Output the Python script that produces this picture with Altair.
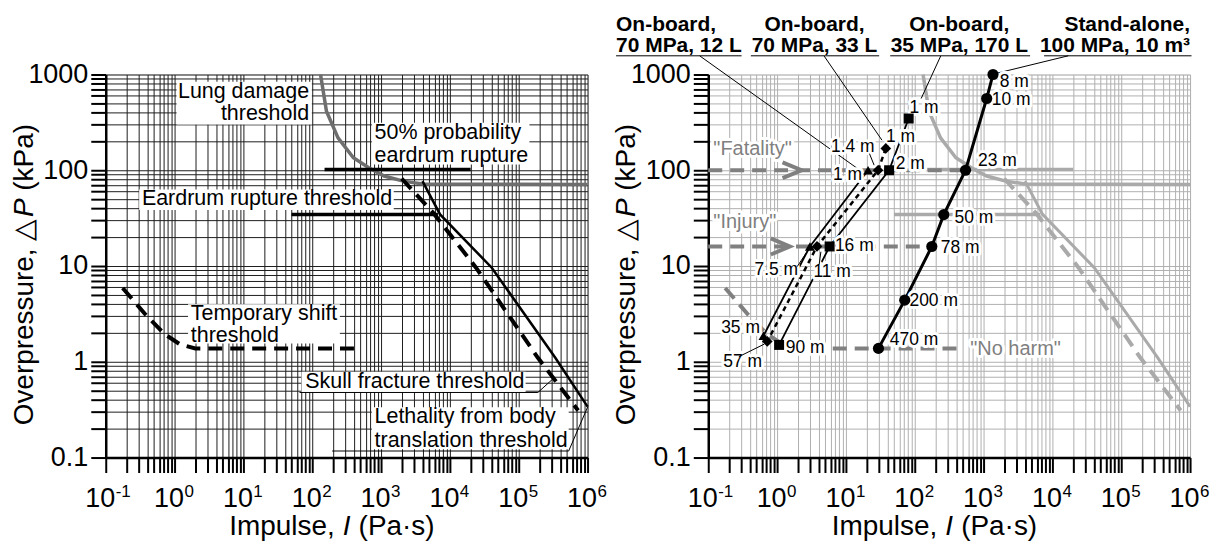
import altair as alt
import pandas as pd

FONT = "Liberation Sans"
W, H = 483, 384

# ---------------- threshold curves (impulse in Pa·s, overpressure in kPa) ----------------
lung_I = [132, 161, 237, 396, 663, 1110, 2100, 4000, 1e6]
lung_P = [1000, 414, 218, 135, 106, 87, 77, 72, 71]
ear50_I = [151, 20000]
ear50_P = [102, 102]
eardrum_I = [50, 6700]
eardrum_P = [34.5, 34.5]
skull_I = [4000, 7200, 40600, 340000, 1000000]
skull_P = [77, 34.6, 9.6, 1.1, 0.34]
body_I = [1990, 5900, 24000, 190000, 730000]
body_P = [82, 35, 9.6, 1.1, 0.31]
tts_I = [0.176, 0.38, 0.72, 1.2, 2.0, 480]
tts_P = [5.9, 3.1, 1.94, 1.52, 1.38, 1.38]

# ---------------- harm levels ----------------
fatal_I, fatal_P = [0.1, 550], [100, 100]
injury_I, injury_P = [0.1, 177], [16, 16]
fatal_arrow_I, fatal_arrow_P = [1.2, 2.27, 1.2], [121, 100, 82.6]
injury_arrow_I, injury_arrow_P = [0.81, 1.53, 0.81], [19.4, 16, 13.2]

# ---------------- tank rupture cases ----------------
sa_dist = ["8 m", "10 m", "23 m", "50 m", "78 m", "200 m", "470 m"]
sa_I = [1370, 1110, 547, 264, 177, 71.6, 29.7]
sa_P = [1000, 561, 100, 34.4, 16, 4.4, 1.38]

ob170_dist = ["1 m", "2 m", "16 m", "90 m"]
ob170_I = [81.6, 42.4, 5.8, 1.07]
ob170_P = [347, 100, 16, 1.5]

ob33_dist = ["1 m", "1.4 m", "11 m", "57 m"]
ob33_I = [38, 29.3, 3.8, 0.72]
ob33_P = [169, 100, 16, 1.63]

ob12_dist = ["1 m", "7.5 m", "35 m"]
ob12_I = [21, 3.0, 0.635]
ob12_P = [100, 16, 1.87]

# ---------------- annotation anchors (data coordinates) ----------------
left_lbl_text = ["Lung damage", "threshold"]
left_lbl_I = [90, 90]
left_lbl_P = [660, 385]
left_lbl2_text = ["50% probability", "eardrum rupture", "Eardrum rupture threshold",
                  "Temporary shift", "threshold", "Skull fracture threshold",
                  "Lethality from body", "translation threshold"]
left_lbl2_I = [804, 804, 0.335, 1.72, 1.72, 79.3, 804, 804]
left_lbl2_P = [246, 141, 49.6, 3.13, 1.86, 0.616, 0.264, 0.15]
box_I1 = [1.07, 735, 0.306, 1.57, 69.8, 735]
box_I2 = [98.7, 143000, 1528, 252, 126000, 532000]
box_P1 = [840, 313, 63, 3.98, 0.785, 0.336]
box_P2 = [300, 115, 38.4, 1.55, 0.483, 0.122]
skull_lead_I = [65.4, 190000, 318000]
skull_lead_P = [0.478, 0.478, 0.668]
leth_lead_I = [195, 532000, 1010000]
leth_lead_P = [0.117, 0.117, 0.341]

harm_text = ['"Fatality"', '"Injury"', '"No harm"']
harm_I = [0.1186, 0.1186, 640]
harm_P = [168, 28.8, 1.36]

sa_lbl_I = [1714, 1318, 832, 378, 239, 83.8, 43.4]
sa_lbl_P = [838, 540, 124, 31.8, 15.4, 4.33, 1.69]
ob170_lbl_I = [83.8, 53, 6.92, 1.34]
ob170_lbl_P = [449, 117.5, 16.1, 1.38]
ob33_lbl_I = [38.1, 6.07, 3.37, 0.165]
ob33_lbl_P = [223, 175, 8.73, 0.99]
ob12_lbl_I = [6.49, 0.47, 0.154]
ob12_lbl_P = [90.2, 9.02, 2.25]

short_leads = [  # (I0, P0, I1, P1)
    (22, 149, 25.7, 113),
    (1.96, 9.86, 2.93, 15.3),
    (4.09, 10.4, 4.33, 14.1),
    (0.278, 1.13, 0.653, 1.53),
]

group_line1 = ["On-board,", "On-board,", "On-board,", "Stand-alone,"]
group_line2 = ["70 MPa, 12 L", "70 MPa, 33 L", "35 MPa, 170 L", "100 MPa, 10 m³"]
group_I = [0.00458, 3.5, 444, 1.0e6]
group_align = ["left", "center", "center", "right"]
group_P1, group_P2, group_Pu = 3318, 1990, 1567
group_ul_I1 = [0.00458, 0.416, 44, 7570]
group_ul_I2 = [0.305, 30.4, 4740, 1.05e6]
group_lead = [  # (I0, I1, P1)
    (0.075, 14.8, 104),
    (4.8, 33.4, 206),
    (239, 124, 561),
    (17000, 1500, 1024),
]

# ---------------- axes ----------------
X_VALUES = [m * 10.0 ** e for e in range(-1, 6) for m in range(1, 10)] + [1e6]
Y_VALUES = [m * 10.0 ** e for e in range(-1, 3) for m in range(1, 10)] + [1000.0]
DECADES = [10.0 ** k for k in range(-1, 7)]
EXPONENTS = ["-1", "0", "1", "2", "3", "4", "5", "6"]
x_label_expr = " || ".join(f"datum.value == {v!r}" for v in DECADES) + " ? '10' : ''"
y_label_expr = " : ".join(
    f"datum.value == {10.0 ** k!r} ? '{lab}'"
    for k, lab in zip(range(-1, 4), ["0.1", "1", "10", "100", "1000"])) + " : ''"

XS = alt.Scale(type="log", domain=[0.1, 1e6], nice=False)
YS = alt.Scale(type="log", domain=[0.1, 1000], nice=False)
TICK_FONT = 27
TITLE_FONT = 28


def make_axes(grid_color):
    common = dict(title=None, grid=True, gridColor=grid_color, gridWidth=1, gridOpacity=1,
                  domainColor="black", domainWidth=2.5, tickColor="black", tickWidth=2,
                  tickSize=15, labelFont=FONT, labelFontSize=TICK_FONT, labelColor="black",
                  labelOverlap=False, labelFlush=False)
    xa = alt.Axis(values=X_VALUES, labelExpr=x_label_expr, labelPadding=13, labelOffset=-6,
                  **common)
    ya = alt.Axis(values=Y_VALUES, labelExpr=y_label_expr, labelPadding=3, **common)
    return xa, ya


class Panel:
    def __init__(self, grid_color):
        self.xa, self.ya = make_axes(grid_color)
        self.layers = []

    def xy(self, xf="I", yf="P"):
        return dict(x=alt.X(f"{xf}:Q", scale=XS, axis=self.xa),
                    y=alt.Y(f"{yf}:Q", scale=YS, axis=self.ya))

    def line(self, I, P, color, width, dash=None):
        d = pd.DataFrame({"I": I, "P": P, "o": list(range(len(I)))})
        kw = dict(color=color, strokeWidth=width)
        if dash:
            kw["strokeDash"] = dash
        self.layers.append(alt.Chart(d).mark_line(**kw).encode(**self.xy(), order="o:Q"))

    def rule(self, I0, P0, I1, P1, color="black", width=1):
        d = pd.DataFrame({"I": [I0], "P": [P0], "I2": [I1], "P2": [P1]})
        self.layers.append(alt.Chart(d).mark_rule(color=color, strokeWidth=width).encode(
            **self.xy(), x2="I2:Q", y2="P2:Q"))

    def boxes(self, I1, I2, P1, P2):
        d = pd.DataFrame({"I": I1, "I2": I2, "P": P1, "P2": P2})
        self.layers.append(alt.Chart(d).mark_rect(fill="white").encode(
            **self.xy(), x2="I2:Q", y2="P2:Q"))

    def text(self, I, P, labels, size, align="left", color="black", halo=0, weight="normal"):
        d = pd.DataFrame({"I": I, "P": P, "t": labels})
        base = dict(font=FONT, fontSize=size, align=align, baseline="middle", fontWeight=weight)
        if halo:
            self.layers.append(alt.Chart(d).mark_text(
                color="white", stroke="white", strokeWidth=halo, strokeJoin="round", **base
            ).encode(**self.xy(), text="t:N"))
        self.layers.append(alt.Chart(d).mark_text(color=color, **base).encode(
            **self.xy(), text="t:N"))

    def points(self, I, P, shape, size):
        d = pd.DataFrame({"I": I, "P": P})
        self.layers.append(alt.Chart(d).mark_point(
            shape=shape, size=size, filled=True, color="black", opacity=1).encode(**self.xy()))

    def exponents(self):
        # superscript powers next to the "10" tick labels
        d = pd.DataFrame({"I": DECADES, "t": EXPONENTS})
        self.layers.append(alt.Chart(d).mark_text(
            font=FONT, fontSize=17, align="left", baseline="middle", color="black", dx=10
        ).encode(x=alt.X("I:Q", scale=XS, axis=self.xa), y=alt.value(H + 35), text="t:N"))

    def ptext(self, s, x, y, align="center", angle=0, italic=False, size=TITLE_FONT):
        d = pd.DataFrame({"t": [s]})
        kw = dict(font=FONT, fontSize=size, align=align, baseline="middle", color="black",
                  angle=angle)
        if italic:
            kw["fontStyle"] = "italic"
        self.layers.append(alt.Chart(d).mark_text(**kw).encode(
            x=alt.value(x), y=alt.value(y), text="t:N"))

    def titles(self):
        cx = W / 2
        ty = H + 70
        self.ptext("Impulse,", cx - 12, ty, align="right")
        self.ptext("I", cx, ty, italic=True)
        self.ptext("(Pa·s)", cx + 12, ty, align="left")
        pc = 1.391 * H / 4
        tx = -81
        self.ptext("Overpressure, △", tx, pc + 11, align="right", angle=270)
        self.ptext("P", tx, pc, angle=270, italic=True)
        self.ptext("(kPa)", tx, pc - 17, align="left", angle=270)

    def chart(self):
        return alt.layer(*self.layers).properties(width=W, height=H)


# ---------------- left panel: injury thresholds ----------------
L = Panel("#1e1e1e")
L.boxes(box_I1, box_I2, box_P1, box_P2)
L.line(lung_I, lung_P, "#6e6e6e", 3.5)
L.line(ear50_I, ear50_P, "black", 3.5)
L.line(eardrum_I, eardrum_P, "black", 3.5)
L.line(skull_I, skull_P, "black", 2.5)
L.line(body_I, body_P, "black", 4, [14, 8])
L.line(tts_I, tts_P, "black", 4, [14, 8])
L.line(skull_lead_I, skull_lead_P, "black", 1)
L.line(leth_lead_I, leth_lead_P, "black", 1)
L.text(left_lbl_I, left_lbl_P, left_lbl_text, 21.5, align="right")
L.text(left_lbl2_I, left_lbl2_P, left_lbl2_text, 21.5, align="left")
L.exponents()
L.titles()

# ---------------- right panel: tank rupture blast waves ----------------
R = Panel("#b0b0b0")
grey, dark = "#aaaaaa", "#808080"
R.line(lung_I, lung_P, grey, 3.5)
R.line(ear50_I, ear50_P, grey, 3.5)
R.line(eardrum_I, eardrum_P, grey, 3.5)
R.line(skull_I, skull_P, grey, 3)
R.line(body_I, body_P, grey, 4, [14, 8])
R.line(tts_I, tts_P, dark, 4, [14, 8])
R.line(fatal_I, fatal_P, dark, 4, [14, 8])
R.line(injury_I, injury_P, dark, 4, [14, 8])
R.line(fatal_arrow_I, fatal_arrow_P, dark, 4)
R.line(injury_arrow_I, injury_arrow_P, dark, 4)
R.text(harm_I, harm_P, harm_text, 20, color=dark, halo=6)

for i in range(4):
    R.rule(group_ul_I1[i], group_Pu, group_ul_I2[i], group_Pu)
    I0, I1, P1 = group_lead[i]
    R.rule(I0, group_Pu, I1, P1)
    R.text([group_I[i]], [group_P1], [group_line1[i]], 21, align=group_align[i], weight="bold")
    R.text([group_I[i]], [group_P2], [group_line2[i]], 21, align=group_align[i], weight="bold")

R.line(sa_I, sa_P, "black", 3)
R.line(ob170_I, ob170_P, "black", 1.8)
R.line(ob33_I, ob33_P, "black", 2.5, [5, 4])
R.line(ob12_I, ob12_P, "black", 1.8)

R.text(sa_lbl_I, sa_lbl_P, sa_dist, 17.5, halo=6)
R.text(ob170_lbl_I, ob170_lbl_P, ob170_dist, 17.5, halo=6)
R.text(ob33_lbl_I, ob33_lbl_P, ob33_dist, 17.5, halo=6)
R.text(ob12_lbl_I, ob12_lbl_P, ob12_dist, 17.5, halo=6)
for I0, P0, I1, P1 in short_leads:
    R.rule(I0, P0, I1, P1)

R.points(sa_I, sa_P, "circle", 125)
R.points(ob170_I, ob170_P, "square", 100)
R.points(ob33_I, ob33_P, "diamond", 115)
R.points(ob12_I, ob12_P, "triangle-up", 100)
R.exponents()
R.titles()

chart = alt.hconcat(L.chart(), R.chart(), spacing=121, bounds="flush").properties(
    padding={"left": 10, "top": 12, "right": 5, "bottom": 2}
).configure_view(stroke=None).configure(background="white")

chart.save("out.html", embed_options={"renderer": "svg", "actions": False})
